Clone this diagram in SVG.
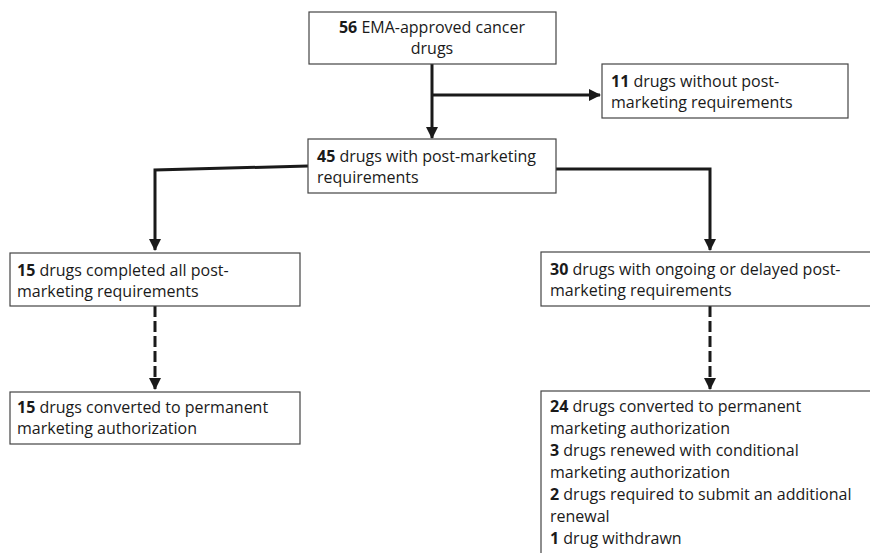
<svg xmlns="http://www.w3.org/2000/svg" width="870" height="553" viewBox="0 0 870 553">
<style>
.box{fill:#fff;stroke:#444;stroke-width:1.2}
text{font-family:"Open Sans","Liberation Sans",Arial,sans-serif;font-size:16px;fill:#1a1a1a}
.b{font-weight:bold}
.c{fill:none;stroke:#1a1a1a;stroke-width:3}
.d{stroke-dasharray:11 4}
</style>
<defs>
<marker id="ah" markerUnits="userSpaceOnUse" markerWidth="12" markerHeight="12" viewBox="0 0 12 12" refX="11" refY="6" orient="auto">
<path d="M0,0 L12,6 L0,12 Z" fill="#1a1a1a"/>
</marker>
</defs>
<rect width="870" height="553" fill="#fff"/>
<g id="connectors">
<path class="c" d="M432,64 V138" marker-end="url(#ah)"/>
<path class="c" d="M432,95 H600" marker-end="url(#ah)"/>
<path class="c" d="M308,166 L155,170 V250" marker-end="url(#ah)"/>
<path class="c" d="M556,169 H710 V250" marker-end="url(#ah)"/>
<path class="c d" d="M155,306 V389" marker-end="url(#ah)"/>
<path class="c d" d="M710,306 V389" marker-end="url(#ah)"/>
</g>
<g id="n56">
<rect class="box" x="309" y="12" width="247" height="52"/>
<text x="432" y="33" text-anchor="middle"><tspan class="b">56</tspan> EMA-approved cancer</text>
<text x="432" y="54" text-anchor="middle">drugs</text>
</g>
<g id="n11">
<rect class="box" x="602" y="64" width="246" height="54"/>
<text x="611" y="87"><tspan class="b">11</tspan> drugs without post-</text>
<text x="611" y="108">marketing requirements</text>
</g>
<g id="n45">
<rect class="box" x="308" y="139" width="248" height="54"/>
<text x="317" y="162"><tspan class="b">45</tspan> drugs with post-marketing</text>
<text x="317" y="183">requirements</text>
</g>
<g id="n15a">
<rect class="box" x="10" y="253" width="290" height="53"/>
<text x="17" y="276"><tspan class="b">15</tspan> drugs completed all post-</text>
<text x="17" y="297">marketing requirements</text>
</g>
<g id="n15b">
<rect class="box" x="10" y="392" width="290" height="52"/>
<text x="17" y="413"><tspan class="b">15</tspan> drugs converted to permanent</text>
<text x="17" y="434">marketing authorization</text>
</g>
<g id="n30">
<rect class="box" x="541" y="252" width="340" height="54"/>
<text x="550" y="275"><tspan class="b">30</tspan> drugs with ongoing or delayed post-</text>
<text x="550" y="296">marketing requirements</text>
</g>
<g id="n24">
<rect class="box" x="541" y="391" width="340" height="170"/>
<text x="550" y="412"><tspan class="b">24</tspan> drugs converted to permanent</text>
<text x="550" y="434">marketing authorization</text>
<text x="550" y="456"><tspan class="b">3</tspan> drugs renewed with conditional</text>
<text x="550" y="478">marketing authorization</text>
<text x="550" y="500"><tspan class="b">2</tspan> drugs required to submit an additional</text>
<text x="550" y="522">renewal</text>
<text x="550" y="544"><tspan class="b">1</tspan> drug withdrawn</text>
</g>
</svg>
